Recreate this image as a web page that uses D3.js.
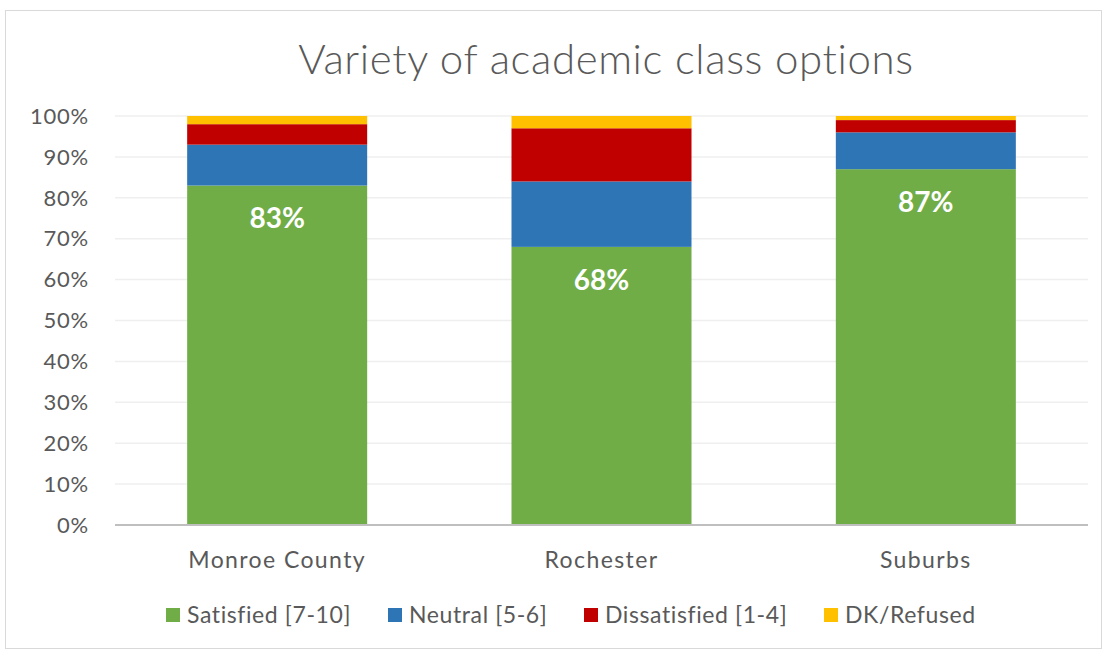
<!DOCTYPE html>
<html>
<head>
<meta charset="utf-8">
<script src="https://cdn.jsdelivr.net/npm/d3@7"></script>
<style>
  body { margin: 0; background: #fff; }
  text { font-family: Lato, "Open Sans", sans-serif; }
</style>
</head>
<body>
<svg width="1107" height="650"></svg>
<script>
// Data
var categories = ["Monroe County", "Rochester", "Suburbs"];
var seriesNames = ["Satisfied [7-10]", "Neutral [5-6]", "Dissatisfied [1-4]", "DK/Refused"];
var satisfied = [83, 68, 87];
var neutral = [10, 16, 9];
var dissatisfied = [5, 13, 3];
var dkRefused = [2, 3, 1];
var yTicks = [0, 10, 20, 30, 40, 50, 60, 70, 80, 90, 100];
var colors = ["#70ad47", "#2e75b6", "#c00000", "#ffc000"];

var svg = d3.select("svg"),
	width = +svg.attr("width"),
	height = +svg.attr("height");

// outer chart border
svg.append("rect")
	.attr("x", 5.5).attr("y", 10.5)
	.attr("width", width - 11).attr("height", height - 12)
	.attr("fill", "#fff")
	.attr("stroke", "#d9d9d9");

var margin = {left: 115, right: 19, top: 116, bottom: 125};

var x = d3.scaleBand()
	.domain(categories)
	.range([margin.left, width - margin.right])
	.paddingInner(0.445)
	.paddingOuter(0.2225);

var y = d3.scaleLinear()
	.domain([0, 100])
	.range([height - margin.bottom, margin.top]);

// table built from the arrays
var table = categories.map(function(c, i) {
	return {cat: c, s0: satisfied[i], s1: neutral[i], s2: dissatisfied[i], s3: dkRefused[i]};
});
var stack = d3.stack().keys(["s0", "s1", "s2", "s3"]);
var layers = stack(table);

// gridlines
svg.append("g")
	.selectAll("line")
	.data(yTicks.filter(function(d){ return d > 0; }))
	.enter()
	.append("line")
	.attr("x1", margin.left).attr("x2", width - margin.right)
	.attr("y1", function(d){ return y(d); })
	.attr("y2", function(d){ return y(d); })
	.attr("stroke", "#efefef")
	.attr("stroke-width", 1.5);

// y tick labels
svg.append("g")
	.selectAll("text")
	.data(yTicks)
	.enter()
	.append("text")
	.attr("x", 89)
	.attr("y", function(d){ return y(d); })
	.attr("dy", "0.35em")
	.attr("text-anchor", "end")
	.attr("font-size", 22)
	.attr("letter-spacing", 0.8)
	.attr("fill", "#595959")
	.text(function(d){ return d + "%"; });

// bars
svg.append("g")
	.selectAll("g")
	.data(layers)
	.enter()
	.append("g")
	.attr("fill", function(d, i){ return colors[i]; })
	.selectAll("rect")
	.data(function(d){ return d; })
	.enter()
	.append("rect")
	.attr("x", function(d){ return x(d.data.cat); })
	.attr("width", x.bandwidth())
	.attr("y", function(d){ return y(d[1]); })
	.attr("height", function(d){ return y(d[0]) - y(d[1]); });

// x axis line
svg.append("line")
	.attr("x1", margin.left).attr("x2", width - margin.right)
	.attr("y1", y(0)).attr("y2", y(0))
	.attr("stroke", "#bfbfbf")
	.attr("stroke-width", 2);

// data labels inside end of green
svg.append("g")
	.selectAll("text")
	.data(table)
	.enter()
	.append("text")
	.attr("x", function(d){ return x(d.cat) + x.bandwidth() / 2; })
	.attr("y", function(d){ return y(d.s0) + 33; })
	.attr("dy", "0.35em")
	.attr("text-anchor", "middle")
	.attr("font-size", 28)
	.attr("font-weight", "bold")
	.attr("fill", "#fff")
	.text(function(d){ return d.s0 + "%"; });

// category labels
svg.append("g")
	.selectAll("text")
	.data(categories)
	.enter()
	.append("text")
	.attr("x", function(d){ return x(d) + x.bandwidth() / 2; })
	.attr("y", 568)
	.attr("text-anchor", "middle")
	.attr("font-size", 23)
	.attr("letter-spacing", 1.4)
	.attr("fill", "#595959")
	.text(function(d){ return d; });

// title
svg.append("text")
	.attr("x", 606)
	.attr("y", 74)
	.attr("text-anchor", "middle")
	.attr("font-size", 42)
	.attr("font-weight", 300)
	.attr("letter-spacing", 0.6)
	.attr("fill", "#595959")
	.text("Variety of academic class options");

// legend
var legendX = [166, 388, 584, 824];
var legend = svg.append("g")
	.selectAll("g")
	.data(seriesNames)
	.enter()
	.append("g")
	.attr("transform", function(d, i){ return "translate(" + legendX[i] + ",615)"; });
legend.append("rect")
	.attr("x", 0).attr("y", -7)
	.attr("width", 14).attr("height", 14)
	.attr("fill", function(d, i){ return colors[i]; });
legend.append("text")
	.attr("x", 21)
	.attr("dy", "0.35em")
	.attr("font-size", 23)
	.attr("letter-spacing", 0.6)
	.attr("fill", "#595959")
	.text(function(d){ return d; });
</script>
</body>
</html>
